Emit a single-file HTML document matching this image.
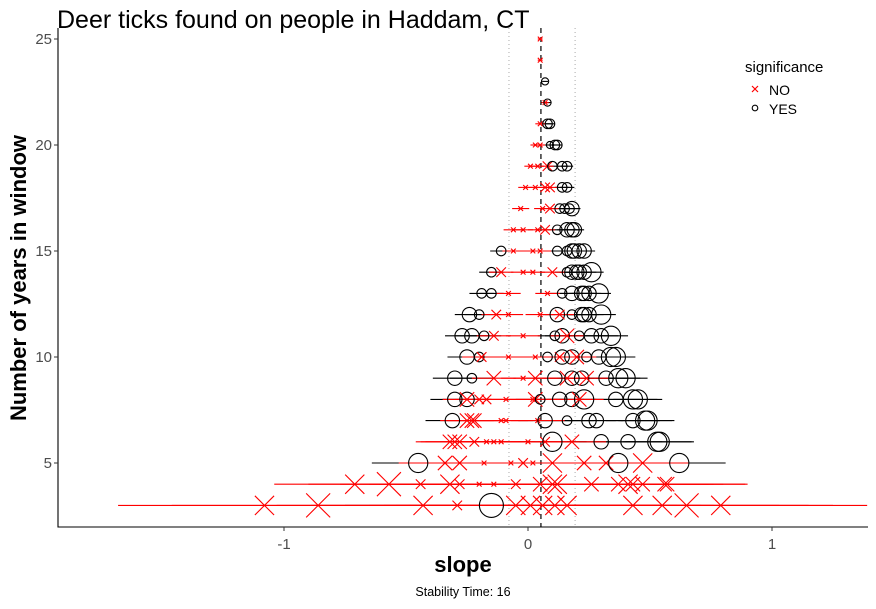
<!DOCTYPE html>
<html><head><meta charset="utf-8"><style>
body{margin:0;background:#fff;}
svg text{font-family:"Liberation Sans",sans-serif;}
</style></head><body>
<svg id="chart" width="876" height="604" viewBox="0 0 876 604" xmlns="http://www.w3.org/2000/svg">
<rect width="876" height="604" fill="#fff"/>
<text x="57" y="28" font-size="25" fill="#000">Deer ticks found on people in Haddam, CT</text>
<g id="plot"></g>
<g id="axes"></g>
<text transform="translate(26,278) rotate(-90)" text-anchor="middle" font-size="22" font-weight="bold">Number of years in window</text>
<text x="463" y="572" text-anchor="middle" font-size="22" font-weight="bold">slope</text>
<text x="463" y="596" text-anchor="middle" font-size="12.5">Stability Time: 16</text>
<g>
<text x="745" y="72" font-size="15">significance</text>
<g><path d="M752,86 l6,6 M758,86 l-6,6" stroke="red" stroke-width="1.2"/><text x="769" y="95" font-size="14">NO</text></g>
<g><circle cx="755" cy="108" r="2.8" fill="none" stroke="#000" stroke-width="1.1"/><text x="769" y="114" font-size="14">YES</text></g>
</g>
</svg>
<script>
const windowSizes=[3,4,5,6,7,8,9,10,11,12,13,14,15,16,17,18,19,20,21,22,23,24,25];
const ciHalfWidth=[0.6,0.33,0.19,0.14,0.11,0.1,0.09,0.08,0.07,0.06,0.05,0.05,0.045,0.04,0.035,0.03,0.025,0.02,0.02,0.015,0.012,0.01,0.01];
const slopes=[
[-1.08,-0.86,-0.43,-0.29,-0.15,-0.05,0.01,0.06,0.11,0.16,0.43,0.55,0.65,0.79],
[-0.71,-0.57,-0.44,-0.32,-0.28,-0.20,-0.14,-0.05,0.05,0.10,0.12,0.26,0.37,0.41,0.43,0.47,0.56,0.57],
[-0.45,-0.34,-0.28,-0.18,-0.07,-0.02,0.02,0.10,0.23,0.32,0.37,0.47,0.62],
[-0.32,-0.30,-0.28,-0.22,-0.17,-0.14,-0.11,0.00,0.07,0.10,0.18,0.30,0.41,0.53,0.54],
[-0.31,-0.25,-0.23,-0.22,-0.11,-0.09,0.04,0.07,0.16,0.25,0.28,0.43,0.48,0.49],
[-0.30,-0.25,-0.25,-0.20,-0.17,-0.09,0.02,0.03,0.05,0.13,0.18,0.21,0.23,0.36,0.43,0.45],
[-0.30,-0.23,-0.14,-0.02,0.03,0.11,0.16,0.18,0.22,0.24,0.32,0.37,0.40],
[-0.25,-0.20,-0.19,-0.08,0.03,0.08,0.13,0.14,0.18,0.20,0.24,0.29,0.34,0.36],
[-0.27,-0.23,-0.18,-0.14,-0.02,0.11,0.14,0.16,0.21,0.26,0.30,0.34],
[-0.24,-0.20,-0.13,-0.08,0.05,0.12,0.13,0.18,0.22,0.23,0.25,0.30],
[-0.19,-0.15,-0.08,0.08,0.14,0.18,0.22,0.23,0.25,0.29],
[-0.15,-0.11,-0.02,0.02,0.10,0.16,0.18,0.20,0.21,0.23,0.26],
[-0.11,-0.06,0.02,0.05,0.12,0.16,0.18,0.19,0.21,0.23],
[-0.06,-0.02,0.04,0.07,0.12,0.16,0.18,0.19],
[-0.03,0.06,0.09,0.13,0.15,0.17,0.18],
[-0.01,0.03,0.07,0.09,0.14,0.16],
[0.01,0.04,0.08,0.10,0.14,0.16],
[0.03,0.05,0.09,0.11,0.12],
[0.05,0.08,0.09],
[0.07,0.08],
[0.07],
[0.05],
[0.05]];
const pointSizes=[
[4,5,4,2,5,4,4,4,4,4,4,4,5,4],
[4,5,2,4,2,1,1,2,3,4,4,3,3,4,3,3,3,3],
[4,3,3,1,1,2,1,4,3,3,4,4,4],
[3,3,3,2,1,1,1,1,2,4,3,3,3,4,4],
[3,3,3,3,1,1,1,3,2,3,3,3,4,4],
[3,3,3,2,2,1,1,3,2,3,3,3,4,3,4,4],
[3,2,3,1,3,3,3,3,3,3,3,4,4],
[3,2,2,1,1,2,2,3,3,3,2,3,4,4],
[3,3,2,2,1,2,3,3,2,3,3,4],
[3,2,2,1,1,3,2,2,3,3,3,4],
[2,2,1,1,2,3,3,3,3,4],
[2,2,1,1,2,2,3,3,3,3,4],
[2,1,1,1,2,2,3,3,3,3],
[1,1,1,2,2,3,3,3],
[1,1,2,2,2,2,3],
[1,1,2,2,2,2],
[1,1,2,2,2,2],
[1,1,1.5,2,2],
[1,2,2],
[1,1.5],
[1.5],
[1],
[1]];
const significant=[
"NNNNYNNNNNNNNN",
"NNNNNNNNNNNNNNNNNN",
"YNNNNNNNNNYNY",
"NNNNNNNNNYNYYYY",
"YNNNNNNYYYYYYY",
"YYNNNNNNYYYNYYYY",
"YYNNNYNYYNYYY",
"YYNNNYNYYNYYYY",
"YYYNNYYNYYYY",
"YYNNNYNYYYYY",
"YYNNYYYYYY",
"YNNNNYYYYYY",
"YNNNYYYYYY",
"NNNNYYYY",
"NNNYYYY",
"NNNNYY",
"NNNYYY",
"NNYYY",
"NYY",
"NY",
"Y",
"N",
"N"];
const xTicks=[-1,0,1];
const yTicks=[5,10,15,20,25];

const NS="http://www.w3.org/2000/svg";
const X0=58,X1=868,Y0=28,Y1=527;
function xs(v){return 528+v*244;}
function ys(n){return 463-(n-5)*21.2;}
function mk(tag,attrs,parent){const e=document.createElementNS(NS,tag);for(const k in attrs)e.setAttribute(k,attrs[k]);parent.appendChild(e);return e;}
const plot=document.getElementById('plot'),axes=document.getElementById('axes');
const ref=[[0.053,"5,4","#000",1.2],[-0.078,"1,3","#aaa",1],[0.193,"1,3","#aaa",1]];
ref.forEach((r,i)=>{const l=mk('line',{x1:xs(r[0]),x2:xs(r[0]),y1:Y0,y2:Y1,stroke:r[2],'stroke-dasharray':r[1],'stroke-width':r[3]},plot);

});
['Y','N'].forEach(flag=>{
windowSizes.forEach((n,i)=>{slopes[i].forEach((s,j)=>{if(significant[i][j]!==flag)return;
const l=mk('line',{x1:xs(s-ciHalfWidth[i]),x2:xs(s+ciHalfWidth[i]),y1:ys(n),y2:ys(n),stroke:flag==='Y'?'#000':'red','stroke-width':1.1},plot);

});});});
windowSizes.forEach((n,i)=>{slopes[i].forEach((s,j)=>{
const cx=xs(s),cy=ys(n),r=2.4*pointSizes[i][j];let e;
if(significant[i][j]==='Y'){e=mk('circle',{cx:cx,cy:cy,r:r,fill:'none',stroke:'#000','stroke-width':1.1},plot);}
else{e=mk('path',{d:`M${cx-r},${cy-r}L${cx+r},${cy+r}M${cx+r},${cy-r}L${cx-r},${cy+r}`,stroke:'red','stroke-width':1.1,fill:'none'},plot);}

});});
const ax=mk('path',{d:`M${X0},${Y0}V${Y1}H${X1}`,stroke:'#000','stroke-width':1.1,fill:'none'},axes);


xTicks.forEach(t=>{mk('line',{x1:xs(t),x2:xs(t),y1:Y1,y2:Y1+4,stroke:'#333'},axes);
const tx=mk('text',{x:xs(t),y:Y1+22,'text-anchor':'middle','font-size':15,fill:'#4d4d4d'},axes);tx.textContent=t;

});
yTicks.forEach(t=>{mk('line',{x1:X0-4,x2:X0,y1:ys(t),y2:ys(t),stroke:'#333'},axes);
const tx=mk('text',{x:X0-6,y:ys(t)+5,'text-anchor':'end','font-size':15,fill:'#4d4d4d'},axes);tx.textContent=t;

});
</script>
</body></html>
